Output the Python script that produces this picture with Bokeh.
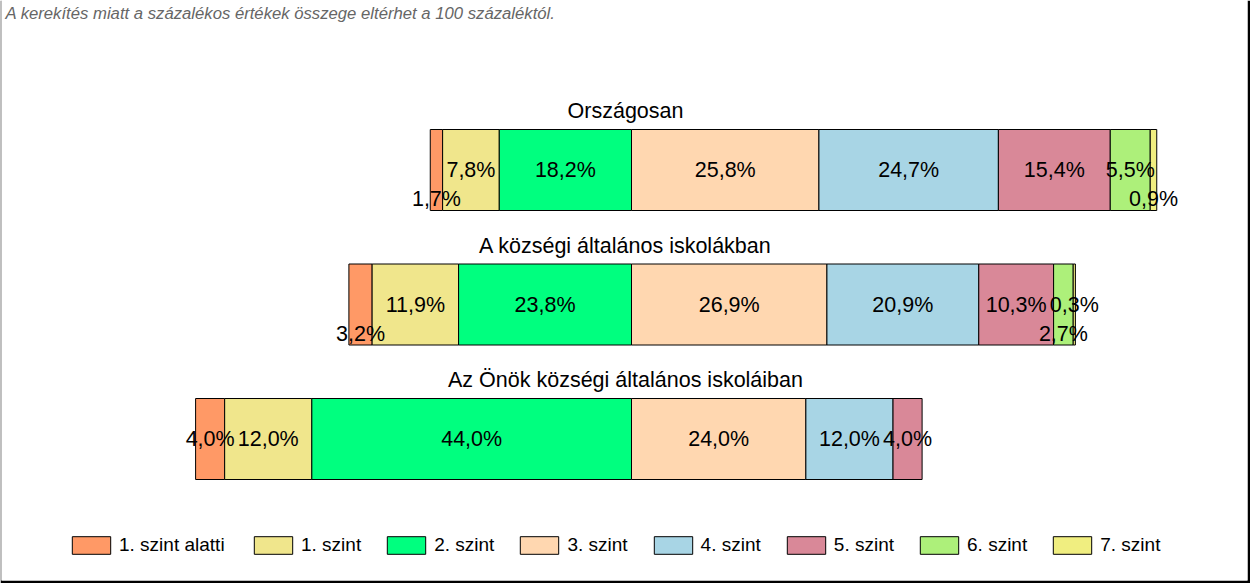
from bokeh.plotting import figure
from bokeh.models import Range1d, Label, Legend, LegendItem
from bokeh.core.properties import value
from bokeh.embed import file_html
from bokeh.resources import INLINE

# ---------------- data ----------------
subtitle = "A kerekítés miatt a  százalékos értékek összege eltérhet a 100 százaléktól."
groups = ["Országosan", "A községi általános iskolákban", "Az Önök községi általános iskoláiban"]
levels = ["1. szint alatti", "1. szint", "2. szint", "3. szint",
          "4. szint", "5. szint", "6. szint", "7. szint"]
orszagosan = [1.7, 7.8, 18.2, 25.8, 24.7, 15.4, 5.5, 0.9]
kozsegi = [3.2, 11.9, 23.8, 26.9, 20.9, 10.3, 2.7, 0.3]
onok = [4.0, 12.0, 44.0, 24.0, 12.0, 4.0, 0.0, 0.0]
series = [orszagosan, kozsegi, onok]
colors = ["#FF9966", "#F0E68C", "#00FF7F", "#FFD7B0",
          "#A8D5E5", "#D98898", "#ADF07A", "#F0EE80"]
# labels drawn on the lower line (small segments), (row, level)
low_labels = {(0, 0), (0, 7), (1, 0), (1, 6)}

# ---------------- layout constants ----------------
W, H = 1250, 583
BL, BR, BT, BB = 1, 3, 0, 3
FW, FH = W - BL - BR, H - BT - BB
PX_PER_PCT = 7.265
ZERO_PX = 630          # frame x of boundary between "2. szint" and "3. szint"
ROW_PX = 134.5         # vertical distance between bars
ROW0_PX = 169.5        # frame y of first bar centre
BAR_PX = 81
FONT = "Liberation Sans"

p = figure(width=W, height=H, output_backend="svg", toolbar_location=None,
           x_axis_type=None, y_axis_type=None,
           x_range=Range1d(-ZERO_PX / PX_PER_PCT, (FW - ZERO_PX) / PX_PER_PCT),
           y_range=Range1d((FH - ROW0_PX) / ROW_PX, -ROW0_PX / ROW_PX),
           min_border_left=BL, min_border_right=BR, min_border_top=BT, min_border_bottom=BB,
           border_fill_color="black", background_fill_color="white",
           outline_line_color=None)
p.grid.visible = False

def px(v):
    return v / ROW_PX

rows = list(range(len(groups)))
offsets = [sum(s[:3]) for s in series]

renderers = []
lab_x, lab_y, lab_t = [], [], []
for j, lvl in enumerate(levels):
    ys, ls, rs = [], [], []
    for i, s in enumerate(series):
        left = sum(s[:j]) - offsets[i]
        right = left + s[j]
        if s[j] <= 0:
            continue
        ys.append(rows[i]); ls.append(left); rs.append(right)
        lab_x.append((left + right) / 2)
        dy = 29 if (i, j) in low_labels else 0
        lab_y.append(rows[i] + px(dy))
        lab_t.append(f"{s[j]:.1f}".replace(".", ",") + "%")
    r = p.hbar(y=ys, left=ls, right=rs, height=px(BAR_PX),
               fill_color=colors[j], line_color="black", line_width=1)
    renderers.append((lvl, r))

p.text(x=lab_x, y=lab_y, text=lab_t, text_align="center", text_baseline="middle",
       text_font=value(FONT), text_font_size="21.5px", text_color="black")

title_x = (FW / 2 + 1 - ZERO_PX) / PX_PER_PCT
p.text(x=[title_x] * len(groups), y=[r - px(59) for r in rows], text=groups,
       text_align="center", text_baseline="middle",
       text_font=value(FONT), text_font_size="21.5px", text_color="black")

p.add_layout(Label(x=p.x_range.start + 4 / PX_PER_PCT, y=p.y_range.end + px(12.5),
                   text=subtitle, text_font=FONT, text_font_size="16.7px",
                   text_font_style="italic", text_color="#666666",
                   text_baseline="middle"))

legend_style = dict(orientation="horizontal", glyph_width=48, glyph_height=22,
                    label_standoff=4, spacing=21, padding=0, margin=0,
                    border_line_color=None, background_fill_alpha=0,
                    label_text_font=FONT, label_text_font_size="19px",
                    label_text_color="black")
items = [LegendItem(label=l, renderers=[r]) for l, r in renderers]
p.add_layout(Legend(items=items[:1], location=(66, 24), **legend_style))
p.add_layout(Legend(items=items[1:], location=(248, 24), **legend_style))

open("out.html", "w").write(file_html(p, INLINE))
